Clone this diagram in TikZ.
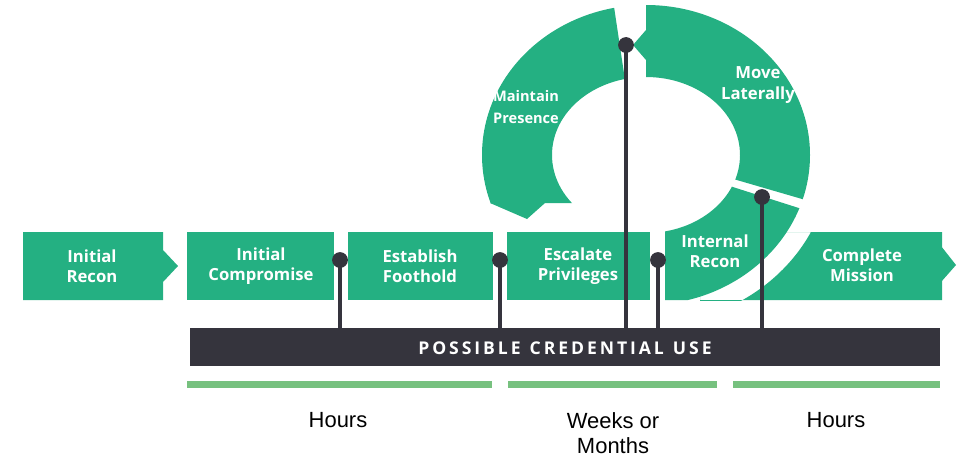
\documentclass[tikz,border=0pt]{standalone}
\usepackage{fontspec}
\setmainfont{Liberation Sans}
\newfontfamily\boxfont{Open Sans}
\definecolor{gr}{RGB}{36,176,130}
\definecolor{lg}{RGB}{119,193,127}
\definecolor{dk}{RGB}{53,52,61}
\begin{document}
\begin{tikzpicture}[x=0.02cm,y=-0.02cm,
  lbl/.style={text=white,font=\boxfont\bfseries\fontsize{9.5}{11.5}\selectfont,align=center},
  tm/.style={font=\fontsize{12.5}{14}\selectfont,align=center,text=black},
  pin/.style={draw=dk,line width=2.3pt},
  dot/.style={circle,fill=dk,inner sep=0pt,minimum size=9pt}]
\useasboundingbox (0,0) rectangle (974,464);
\def\ring{(646,155) ellipse [x radius=164, y radius=150] (646,155) ellipse [x radius=94, y radius=78]}
% boxes
\fill[gr] (23,232) -- (163,232) -- (163,250) -- (178,266) -- (163,282) -- (163,300) -- (23,300) -- cycle;
\fill[gr] (187,232) rectangle (334,300);
\fill[gr] (348,232) rectangle (493,300);
\fill[gr] (507,232) rectangle (650,300);
\begin{scope}
\clip (700,232) rectangle (942,300);
\fill[gr,even odd rule] (700,232) rectangle (942,300) (646,155) ellipse [x radius=185, y radius=170];
\end{scope}
\fill[gr] (941,232) -- (941,246) -- (956,265) -- (941,282) -- (941,300) -- cycle;
% ring segments
\begin{scope}
\clip (0,0) -- (613,0) -- (625,80) -- (600,203) -- (0,203) -- cycle;
\fill[gr,even odd rule] \ring;
\end{scope}
\fill[gr] (490,203) -- (527,219) -- (545,203) -- cycle;
\begin{scope}
\clip (646,0) -- (974,0) -- (974,249) -- (646,153.6) -- cycle;
\fill[gr,even odd rule] \ring;
\end{scope}
\fill[gr] (646,30) -- (633,45) -- (646,60) -- cycle;
\begin{scope}
\clip (665,165.4) -- (974,263.8) -- (974,300) -- (665,300) -- cycle;
\fill[gr,even odd rule] \ring;
\end{scope}
% bar and time lines
\fill[dk] (190,328) rectangle (940,366);
\node[text=white,font=\boxfont\bfseries\fontsize{10}{12}\selectfont] (bar) at (565,348) {P\,O\,S\,S\,I\,B\,L\,E\ \ C\,R\,E\,D\,E\,N\,T\,I\,A\,L\ \ U\,S\,E};
\fill[lg] (187,381) rectangle (492,388);
\fill[lg] (508,381) rectangle (717,388);
\fill[lg] (733,381) rectangle (940,388);
\node[tm] (t1) at (338,420) {Hours};
\node[tm] (t2) at (613,433) {Weeks or\\Months};
\node[tm] (t3) at (836,420) {Hours};
% labels
\node[lbl] (ir) at (92,266) {Initial\\Recon};
\node[lbl] (ic) at (261,266) {Initial\\Compromise};
\node[lbl] (ef) at (420,266) {Establish\\Foothold};
\node[lbl] (ep) at (578,266) {Escalate\\Privileges};
\node[lbl] (in) at (715,251) {Internal\\Recon};
\node[lbl] (cm) at (862,265) {Complete\\Mission};
\node[lbl,font=\boxfont\bfseries\fontsize{8.3}{13}\selectfont] (mp) at (526,107) {Maintain\\Presence};
\node[lbl] (ml) at (758,85) {Move\\Laterally};
% pins
\foreach \n/\x/\y in {a/340/260,b/500/260,c/626/45,d/658/260,e/762/197}{
  \node[dot] (p\n) at (\x,\y) {};
  \coordinate (q\n) at (\x,328);
  \draw[pin] (p\n.center) -- (q\n);
}
\end{tikzpicture}
\end{document}
